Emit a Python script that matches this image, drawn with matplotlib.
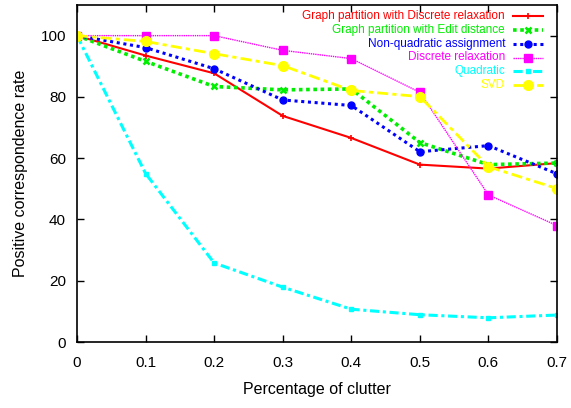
import matplotlib.pyplot as plt
from matplotlib.lines import Line2D

plt.rcParams['font.family'] = ['Liberation Sans', 'DejaVu Sans']

# clutter levels and correspondence rates
clutter = [0, 0.1, 0.2, 0.3, 0.4, 0.5, 0.6, 0.7]
gp_discrete = [100, 93.5, 87.7, 73.8, 66.6, 57.9, 56.6, 58.4]
gp_edit = [100, 91.6, 83.4, 82.3, 82.6, 65.1, 57.9, 58.4]
non_quadratic = [100, 96.1, 89.2, 79.0, 77.2, 62.1, 64.1, 54.9]
discrete_relax = [100, 100, 100, 95.2, 92.5, 81.5, 48.0, 38.0]
quadratic = [100, 55.0, 25.8, 17.9, 10.7, 8.9, 7.9, 8.8]
svd = [100, 98.1, 94.1, 90.2, 82.1, 80.1, 57.2, 50.1]

labels = ['Graph partition with Discrete relaxation',
          'Graph partition with Edit distance',
          'Non-quadratic assignment',
          'Discrete relaxation',
          'Quadratic',
          'SVD']

fig = plt.figure(figsize=(5.71, 4.08), dpi=100)
ax = fig.add_axes([77 / 571, 1 - 342 / 408, 480 / 571, 337 / 408])

styles = [
    dict(color='#ff0000', ls='-', lw=1.5, marker='+', ms=4, mew=1.2),
    dict(color='#00ee00', ls=(0, (1, 1)), lw=2.6, marker='x', ms=4, mew=1.8),
    dict(color='#0000ff', ls=(0, (1, 1.2)), lw=2.2, marker='o', ms=5),
    dict(color='#ff00ff', ls=(0, (1, 0.6)), lw=1.0, marker='s', ms=6),
    dict(color='#00ffff', ls=(0, (3, 1.2, 1, 1.2)), lw=2.2, marker='s', ms=3.5),
    dict(color='#ffff00', ls=(0, (4, 1.5, 1.5, 1.5)), lw=2.0, marker='o', ms=7),
]
series = [gp_discrete, gp_edit, non_quadratic, discrete_relax, quadratic, svd]

for ys, st in zip(series, styles):
    ax.plot(clutter, ys, **st)

ax.set_xlim(0, 0.7)
ax.set_ylim(0, 110)
ax.set_xticks(clutter)
ax.set_xticklabels(['0', '0.1', '0.2', '0.3', '0.4', '0.5', '0.6', '0.7'])
ax.set_yticks([0, 20, 40, 60, 80, 100])
ax.tick_params(direction='in', top=True, right=True, length=5, width=1,
               labelsize=11)
ax.tick_params(axis='x', pad=10)
ax.tick_params(axis='y', pad=8)
for sp in ax.spines.values():
    sp.set_linewidth(1.2)
ax.set_xlabel('Percentage of clutter', fontsize=11.5, labelpad=9)
ax.set_ylabel('Positive correspondence rate', fontsize=11.5, labelpad=9)

# gnuplot-style key: right-aligned coloured labels, sample on the right
row_y = [16, 30, 44, 57.5, 71, 85]
for lab, st, py in zip(labels, styles, row_y):
    fy = 1 - py / 408
    fig.text(505 / 571, fy, lab, color=st['color'], ha='right', va='center',
             fontsize=8.5)
    fig.add_artist(Line2D([513 / 571, 528 / 571, 543 / 571], [fy, fy, fy],
                          transform=fig.transFigure, markevery=[1], **st))

fig.savefig('out.png', dpi=100)
